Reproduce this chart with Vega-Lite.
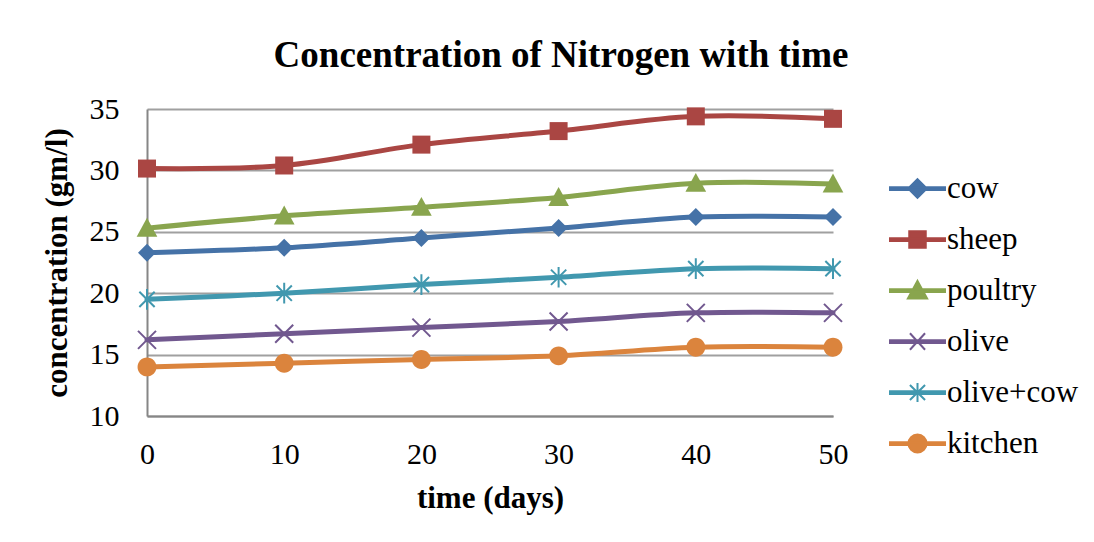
{
  "$schema": "https://vega.github.io/schema/vega-lite/v6.json",
  "width": 686,
  "height": 307,
  "padding": {"left": 40, "top": 37, "right": 5, "bottom": 5},
  "background": "white",
  "title": {
    "text": "Concentration of Nitrogen with time",
    "font": "Liberation Serif",
    "fontSize": 37,
    "fontWeight": "bold",
    "color": "black",
    "anchor": "middle",
    "frame": "group",
    "dx": 71,
    "offset": 19
  },
  "data": {
    "values": [
      {"time": 0, "series": "cow", "value": 23.3},
      {"time": 10, "series": "cow", "value": 23.7},
      {"time": 20, "series": "cow", "value": 24.5},
      {"time": 30, "series": "cow", "value": 25.3},
      {"time": 40, "series": "cow", "value": 26.2},
      {"time": 50, "series": "cow", "value": 26.2},
      {"time": 0, "series": "sheep", "value": 30.15},
      {"time": 10, "series": "sheep", "value": 30.4},
      {"time": 20, "series": "sheep", "value": 32.1},
      {"time": 30, "series": "sheep", "value": 33.2},
      {"time": 40, "series": "sheep", "value": 34.4},
      {"time": 50, "series": "sheep", "value": 34.2},
      {"time": 0, "series": "poultry", "value": 25.3},
      {"time": 10, "series": "poultry", "value": 26.3},
      {"time": 20, "series": "poultry", "value": 27.0},
      {"time": 30, "series": "poultry", "value": 27.8},
      {"time": 40, "series": "poultry", "value": 28.95},
      {"time": 50, "series": "poultry", "value": 28.9},
      {"time": 0, "series": "olive", "value": 16.2},
      {"time": 10, "series": "olive", "value": 16.7},
      {"time": 20, "series": "olive", "value": 17.2},
      {"time": 30, "series": "olive", "value": 17.7},
      {"time": 40, "series": "olive", "value": 18.4},
      {"time": 50, "series": "olive", "value": 18.4},
      {"time": 0, "series": "olive+cow", "value": 19.5},
      {"time": 10, "series": "olive+cow", "value": 20.0},
      {"time": 20, "series": "olive+cow", "value": 20.7},
      {"time": 30, "series": "olive+cow", "value": 21.3},
      {"time": 40, "series": "olive+cow", "value": 22.0},
      {"time": 50, "series": "olive+cow", "value": 22.0},
      {"time": 0, "series": "kitchen", "value": 14.0},
      {"time": 10, "series": "kitchen", "value": 14.3},
      {"time": 20, "series": "kitchen", "value": 14.6},
      {"time": 30, "series": "kitchen", "value": 14.9},
      {"time": 40, "series": "kitchen", "value": 15.6},
      {"time": 50, "series": "kitchen", "value": 15.6}
    ]
  },
  "encoding": {
    "x": {
      "field": "time",
      "type": "quantitative",
      "scale": {"domain": [0, 50], "nice": false, "zero": false},
      "axis": {
        "title": "time (days)",
        "values": [0, 10, 20, 30, 40, 50],
        "grid": false,
        "ticks": false,
        "labelPadding": 23,
        "titlePadding": 14,
        "labelFlush": false
      }
    },
    "y": {
      "field": "value",
      "type": "quantitative",
      "scale": {"domain": [10, 35], "nice": false, "zero": false},
      "axis": {
        "title": "concentration (gm/l)",
        "values": [10, 15, 20, 25, 30, 35],
        "grid": true,
        "ticks": false,
        "labelPadding": 28,
        "titlePadding": 16
      }
    },
    "color": {
      "field": "series",
      "type": "nominal",
      "scale": {
        "domain": ["cow", "sheep", "poultry", "olive", "olive+cow", "kitchen"],
        "range": ["#4572A7", "#AA4643", "#89A54E", "#71588F", "#4198AF", "#DB843D"]
      },
      "legend": {
        "title": null,
        "orient": "none",
        "legendX": 755,
        "legendY": 64,
        "padding": 0,
        "symbolSize": 756,
        "labelOffset": 14,
        "rowPadding": 19,
        "labelFont": "Liberation Serif",
        "labelFontSize": 31,
        "labelColor": "black",
        "labelLimit": 300,
        "encode": {
          "symbols": {
            "update": {
              "shape": {"signal": "datum.value === 'cow' ? 'M-2,-0.1L2,-0.1L2,0.1L-2,0.1Z M0,-0.68L0.68,0L0,0.68L-0.68,0Z' : datum.value === 'sheep' ? 'M-2,-0.1L2,-0.1L2,0.1L-2,0.1Z M-0.6,-0.6L0.6,-0.6L0.6,0.6L-0.6,0.6Z' : datum.value === 'poultry' ? 'M-2,-0.1L2,-0.1L2,0.1L-2,0.1Z M0,-0.7L0.7,0.58L-0.7,0.58Z' : datum.value === 'olive' ? 'M-2,-0.1L2,-0.1L2,0.1L-2,0.1Z M-0.55,-0.6L0.55,0.6M-0.55,0.6L0.55,-0.6' : datum.value === 'olive+cow' ? 'M-2,-0.1L2,-0.1L2,0.1L-2,0.1Z M-0.55,-0.55L0.55,0.55M-0.55,0.55L0.55,-0.55M0,-0.7L0,0.7' : 'M-2,-0.1L2,-0.1L2,0.1L-2,0.1Z M0.66,0A0.66,0.66,0,1,1,-0.66,0A0.66,0.66,0,1,1,0.66,0Z'"},
              "fill": {"scale": "color", "field": "value"},
              "stroke": {"scale": "color", "field": "value"},
              "strokeWidth": {"value": 2},
              "opacity": {"value": 1},
              "size": {"value": 756}
            }
          }
        }
      }
    }
  },
  "layer": [
    {
      "mark": {"type": "line", "interpolate": "catmull-rom", "strokeWidth": 5, "strokeCap": "round"}
    },
    {
      "transform": [{"filter": "datum.series === 'cow'"}],
      "mark": {"type": "point", "filled": true, "opacity": 1, "size": 324, "strokeWidth": 0, "shape": "M0,-1L1,0L0,1L-1,0Z"}
    },
    {
      "transform": [{"filter": "datum.series === 'sheep'"}],
      "mark": {"type": "point", "filled": true, "opacity": 1, "size": 324, "strokeWidth": 0, "shape": "M-1,-1L1,-1L1,1L-1,1Z"}
    },
    {
      "transform": [{"filter": "datum.series === 'poultry'"}],
      "mark": {"type": "point", "filled": true, "opacity": 1, "size": 324, "strokeWidth": 0, "shape": "M0,-1.15L1.15,0.95L-1.15,0.95Z"}
    },
    {
      "transform": [{"filter": "datum.series === 'olive'"}],
      "mark": {"type": "point", "filled": false, "opacity": 1, "size": 324, "strokeWidth": 2, "shape": "M-1,-1L1,1M-1,1L1,-1"}
    },
    {
      "transform": [{"filter": "datum.series === 'olive+cow'"}],
      "mark": {"type": "point", "filled": false, "opacity": 1, "size": 324, "strokeWidth": 2, "shape": "M-0.85,-0.85L0.85,0.85M-0.85,0.85L0.85,-0.85M0,-1.15L0,1.15"}
    },
    {
      "transform": [{"filter": "datum.series === 'kitchen'"}],
      "mark": {"type": "point", "filled": true, "opacity": 1, "size": 324, "strokeWidth": 0, "shape": "M1.05,0A1.05,1.05,0,1,1,-1.05,0A1.05,1.05,0,1,1,1.05,0Z"}
    }
  ],
  "config": {
    "font": "Liberation Serif",
    "view": {"stroke": null},
    "legend": {"rowPadding": 19},
    "axis": {
      "labelFont": "Liberation Serif",
      "labelFontSize": 30,
      "labelColor": "black",
      "titleFont": "Liberation Serif",
      "titleFontSize": 31,
      "titleFontWeight": "bold",
      "titleColor": "black",
      "domainColor": "#868686",
      "domainWidth": 2,
      "gridColor": "#A0A0A0",
      "gridWidth": 2
    }
  }
}
